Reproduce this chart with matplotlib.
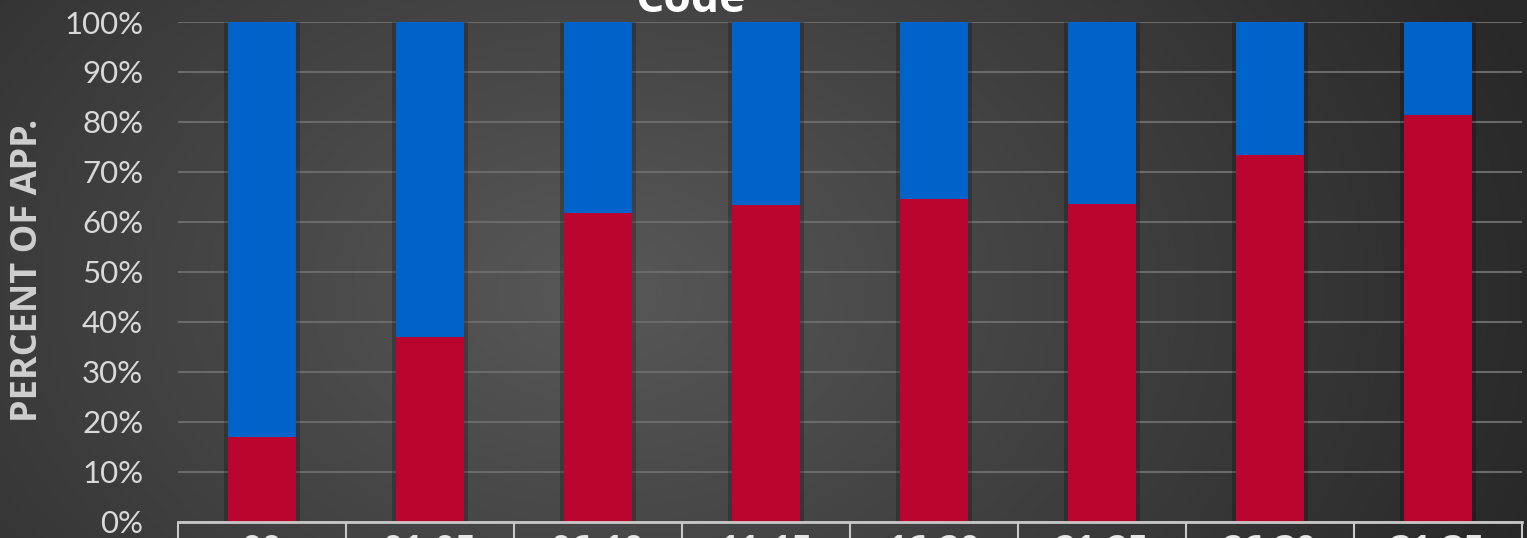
import numpy as np
import matplotlib
matplotlib.use("Agg")
import matplotlib.pyplot as plt
from matplotlib.ticker import PercentFormatter

categories = ["00", "01-05", "06-10", "11-15", "16-20", "21-25", "26-30", "31-35"]
red_pct = [16.9, 36.9, 61.7, 63.4, 64.5, 63.5, 73.3, 81.3]
blue_pct = [100 - v for v in red_pct]
yticks = list(range(0, 101, 10))

W, H, DPI = 1527, 538, 100
fig = plt.figure(figsize=(W / DPI, H / DPI), dpi=DPI)

# radial gradient background
bg = fig.add_axes([0, 0, 1, 1], zorder=-10)
yy, xx = np.mgrid[0:H, 0:W]
cx, cy = 600, 290
d = np.sqrt(((xx - cx) / 1000.0) ** 2 + ((yy - cy) / 700.0) ** 2)
v = np.clip(0.345 - 0.19 * d, 0.16, 0.36)
bg.imshow(np.dstack([v, v, v]), aspect="auto", extent=[0, 1, 0, 1])
bg.set_axis_off()

fam = ["Lato", "DejaVu Sans"]
famb = ["Open Sans", "DejaVu Sans"]

ax = fig.add_axes([178 / W, (H - 521.7) / H, (1522 - 178) / W, (521.7 - 22) / H])
ax.set_facecolor("none")
x = np.arange(len(categories))
width = 0.4
# soft shadow behind bars
ax.bar(x, [100] * len(x), width=width + 0.05, color="black", alpha=0.22, zorder=2)
ax.bar(x, red_pct, width=width, color="#BA062F", zorder=3)
ax.bar(x, blue_pct, bottom=red_pct, width=width, color="#0063C9", zorder=3)

ax.set_xlim(-0.5, len(categories) - 0.5)
ax.set_ylim(0, 100)
ax.set_yticks(yticks)
ax.yaxis.set_major_formatter(PercentFormatter(decimals=0))
ax.grid(axis="y", color="#6a6a6a", linewidth=1.5, zorder=1)
ax.set_axisbelow(True)
for s in ["top", "right", "left"]:
    ax.spines[s].set_visible(False)
ax.spines["bottom"].set_color("#c8c8c8")
ax.spines["bottom"].set_linewidth(2)
ax.spines["bottom"].set_zorder(5)

ax.tick_params(axis="y", length=0, pad=25, labelcolor="#d9d9d9", labelsize=22.5)
for lab in ax.get_yticklabels():
    lab.set_family(fam)

# category dividers as long major ticks, labels as minor ticks
ax.set_xticks(np.arange(len(categories) + 1) - 0.5)
ax.set_xticklabels([])
ax.tick_params(axis="x", which="major", length=30, width=1.5, color="#c8c8c8", direction="out")
ax.set_xticks(x, minor=True)
ax.set_xticklabels(categories, minor=True)
ax.tick_params(axis="x", which="minor", length=0, pad=9, labelcolor="#e6e6e6", labelsize=26)
for lab in ax.get_xticklabels(minor=True):
    lab.set_family(famb)
    lab.set_fontweight("bold")

fig.text(28 / W, (H - 270) / H, "PERCENT OF APP.", rotation=90, ha="center", va="center",
         color="#cfcfcf", fontsize=26, fontweight="bold", family=famb)

fig.text(691 / W, (H - 12) / H, "Code", ha="center", va="baseline", color="white",
         fontsize=32, fontweight="bold", family=famb)

fig.savefig("out.png", dpi=DPI)
